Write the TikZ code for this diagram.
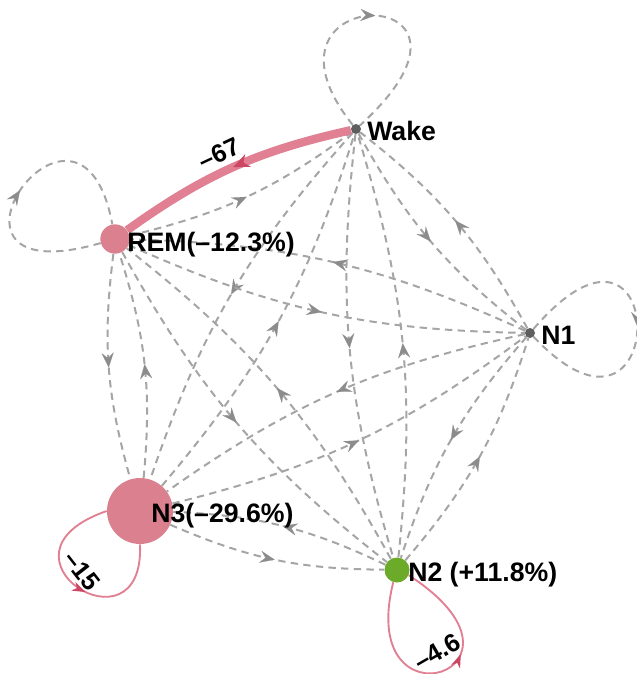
\documentclass[tikz,border=0pt]{standalone}
\usepackage{fontspec}
\setmainfont{Liberation Sans}
\usetikzlibrary{arrows.meta,decorations.markings}
\definecolor{edgegray}{RGB}{165,165,165}
\definecolor{arrgray}{RGB}{140,140,140}
\definecolor{pinknode}{RGB}{218,128,143}
\definecolor{pinkedge}{RGB}{224,128,146}
\definecolor{pinkarr}{RGB}{205,70,100}
\definecolor{greennode}{RGB}{108,170,42}
\definecolor{dotgray}{RGB}{95,95,95}
\pgfdeclarelayer{bg}
\pgfsetlayers{bg,main}
\begin{document}
\begin{tikzpicture}[x=0.75pt,y=-0.75pt,
  dotnode/.style={circle,fill=dotgray,inner sep=0pt,minimum size=7.5pt},
  pinkcircle/.style={circle,fill=pinknode,inner sep=0pt},
  lbl/.style={font=\fontsize{20}{22}\selectfont\bfseries,inner sep=0pt,anchor=base west},
  elbl/.style={font=\fontsize{19}{21}\selectfont\bfseries,inner sep=0pt},
  midarrow/.style={postaction={decorate},decoration={markings,
     mark=at position 0.5 with {\arrow{Stealth[length=11pt,width=9pt,inset=4pt,line width=0.1pt,color=arrgray,fill=arrgray]}}}},
  gloop/.style={draw=edgegray,line width=1.5pt,dash pattern=on 5.5pt off 4pt,midarrow},
  gedge/.style={gloop,bend right=11.5},
  pedge/.style={draw=pinkedge,line width=6.3pt,bend right=11.5,postaction={decorate},decoration={markings,
     mark=at position 0.5 with {\arrow{Stealth[length=12pt,width=10pt,inset=3.5pt,color=pinkarr,fill=pinkarr]}}}},
  ploop/.style={draw=pinkedge,line width=1.4pt,postaction={decorate},decoration={markings,
     mark=at position #1 with {\arrow{Stealth[length=10pt,width=7pt,inset=3pt,color=pinkarr,fill=pinkarr]}}}}
]
\useasboundingbox (0,0) rectangle (636,674);

% nodes
\node[dotnode] (wake) at (356,129) {};
\node[dotnode] (n1) at (530,333) {};
\node[pinkcircle,minimum size=22pt] (rem) at (115,239) {};
\node[pinkcircle,minimum size=49.5pt] (n3) at (140,511) {};
\node[circle,fill=greennode,inner sep=0pt,minimum size=18.75pt] (n2) at (397,570) {};

% labels
\node[lbl] (lwake) at (367,140) {Wake};
\node[lbl] (lrem) at (127,251) {REM(–12.3\%)};
\node[lbl] (ln1) at (541,344) {N1};
\node[lbl] (ln3) at (151,522) {N3(–29.6\%)};
\node[lbl] (ln2) at (408,581) {N2 (+11.8\%)};

\begin{pgfonlayer}{bg}
% dashed edges
\draw[gedge] (wake) to (n1);
\draw[gedge] (n1) to (wake);
\draw[gedge] (wake) to (n2);
\draw[gedge] (n2) to (wake);
\draw[gedge] (wake) to (n3);
\draw[gedge] (n3) to (wake);
\draw[gedge] (rem) to (wake);
\draw[gedge] (rem) to (n1);
\draw[gedge] (n1) to (rem);
\draw[gedge] (rem) to (n2);
\draw[gedge] (n2) to (rem);
\draw[gedge] (rem) to (n3);
\draw[gedge] (n3) to (rem);
\draw[gedge] (n1) to (n2);
\draw[gedge] (n2) to (n1);
\draw[gedge] (n1) to (n3);
\draw[gedge] (n3) to (n1);
\draw[gedge] (n2) to (n3);
\draw[gedge] (n3) to (n2);
% dashed self loops
\draw[gloop] (wake) .. controls +(-120,-150) and +(165,-150) .. (wake);
\draw[gloop] (rem) .. controls +(-210,60) and +(-35,-190) .. (rem);
\draw[gloop] (n1) .. controls +(142,-165) and +(142,150) .. (n1);
% pink edges
\draw[pedge] (wake) to (rem);
\draw[ploop=0.56] (n3.180) .. controls (-20,555) and (145,660) .. (n3.270);
\draw[ploop=0.6] (n2.253) .. controls (355,735) and (555,670) .. (n2.336);
\end{pgfonlayer}

% edge labels
\node[elbl,rotate=25] (l67) at (219,154) {–67};
\node[elbl,rotate=-52] (l15) at (82,571) {–15};
\node[elbl,rotate=30] (l46) at (437,652) {–4.6};
\end{tikzpicture}
\end{document}
